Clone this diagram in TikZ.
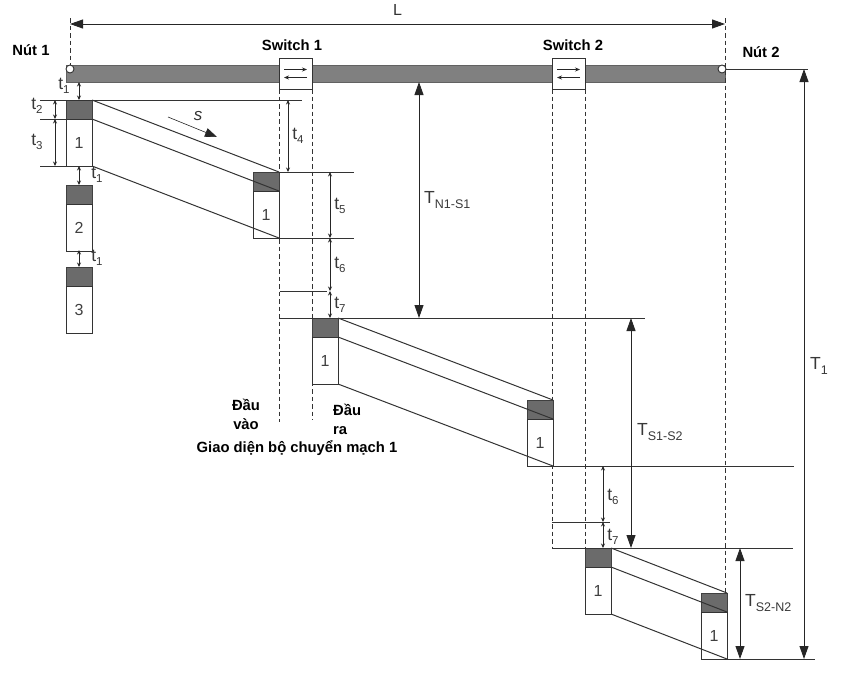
\documentclass[tikz,border=0pt]{standalone}
\usepackage{fontspec}
\setmainfont{Liberation Sans}
\usetikzlibrary{arrows.meta}

% subscripted time labels such as t_1 or T_{N1-S1}
\newcommand{\tlab}[2]{#1\raisebox{-0.45ex}{\fontsize{11.5}{11.5}\selectfont #2}}
\newcommand{\Tlab}[2]{#1\raisebox{-0.55ex}{\fontsize{12.5}{12.5}\selectfont #2}}

\begin{document}
\begin{tikzpicture}[x=1pt,y=-1pt,
  ln/.style={draw=black!80, line width=1pt},
  dsh/.style={draw=black!80, line width=1pt, dash pattern=on 4.5pt off 3pt},
  hdr/.style={draw=black!75, fill=black!58, line width=0.6pt, minimum width=26pt,
    minimum height=19pt, inner sep=0pt, outer sep=0pt, anchor=north west},
  pbody/.style={draw=black!80, fill=white, line width=1pt, minimum width=26pt,
    minimum height=47pt, inner sep=0pt, outer sep=0pt, anchor=north,
    font=\fontsize{16}{16}\selectfont, text=black!75},
  dimsmall/.style={draw=black!85, line width=0.9pt,
    {Stealth[length=4.5pt,width=4pt]}-{Stealth[length=4.5pt,width=4pt]}},
  dimbig/.style={draw=black!85, line width=0.9pt,
    {Triangle[length=13pt,width=9pt]}-{Triangle[length=13pt,width=9pt]}},
  lbl/.style={font=\bfseries\fontsize{14.8}{17}\selectfont, inner sep=0pt},
  tl/.style={font=\fontsize{17.5}{17.5}\selectfont, text=black!78, inner sep=0pt},
  swbox/.style={draw=black!80, fill=white, line width=1pt, minimum width=33pt,
    minimum height=31pt, inner sep=0pt, outer sep=0pt},
  endpt/.style={circle, draw=black!80, fill=white, line width=0.9pt,
    minimum size=8pt, inner sep=0pt},
]
\useasboundingbox (0,0) rectangle (851,672);

% ---------- link between the two nodes ----------
\fill[black!50] (66,65) rectangle (725,82);
\draw[black!62, line width=0.5pt] (66,65) rectangle (725,82);

% span L
\coordinate (Ltop1) at (70,18);
\coordinate (Ltop2) at (725,18);
\coordinate (La) at (70,24);
\coordinate (Lb) at (725,24);
\draw[dimbig] (La) -- (Lb) node[midway, above=5pt, font=\fontsize{16}{16}\selectfont, text=black!80] (Ltxt) {L};

\node[endpt] (n1) at (70,69) {};
\node[endpt] (n2) at (722,69) {};
\draw[dsh] (Ltop1) -- (n1.north);
\coordinate (n2low) at (725,594);
\draw[dsh] (Ltop2) -- (n2low);

% switches
\node[swbox] (sw1) at (295.5,73.5) {};
\node[swbox] (sw2) at (568.5,73.5) {};
\foreach \s in {sw1,sw2}{
  \draw[black!85, line width=0.8pt, -{Stealth[length=5pt,width=4pt]}]
    ([xshift=5pt,yshift=4pt]\s.west) -- ([xshift=-5pt,yshift=4pt]\s.east);
  \draw[black!85, line width=0.8pt, -{Stealth[length=5pt,width=4pt]}]
    ([xshift=-5pt,yshift=-4pt]\s.east) -- ([xshift=5pt,yshift=-4pt]\s.west);
}
\coordinate (sw1inlow) at (279,422);
\coordinate (sw1outlow) at (312,420);
\coordinate (sw2inlow) at (552,548);
\coordinate (sw2outlow) at (585,548);
\draw[dsh] (sw1.south west) -- (sw1inlow);
\draw[dsh] (sw1.south east) -- (sw1outlow);
\draw[dsh] (sw2.south west) -- (sw2inlow);
\draw[dsh] (sw2.south east) -- (sw2outlow);

% labels above the link
\node[lbl] (nut1) at (31,50) {Nút 1};
\node[lbl] (nut2) at (761,52) {Nút 2};
\node[lbl] (s1txt) at (292,45) {Switch 1};
\node[lbl] (s2txt) at (573,45) {Switch 2};

% ---------- packets ----------
\node[hdr] (h1) at (66,100) {};
\node[pbody] (b1) at (h1.south) {1};
\node[hdr] (h2) at (66,185) {};
\node[pbody] (b2) at (h2.south) {2};
\node[hdr] (h3) at (66,267) {};
\node[pbody] (b3) at (h3.south) {3};

\node[hdr] (h4) at (253,172) {};
\node[pbody] (b4) at (h4.south) {1};
\node[hdr] (h5) at (312,318) {};
\node[pbody] (b5) at (h5.south) {1};
\node[hdr] (h6) at (527,400) {};
\node[pbody] (b6) at (h6.south) {1};
\node[hdr] (h7) at (585,548) {};
\node[pbody] (b7) at (h7.south) {1};
\node[hdr] (h8) at (701,593) {};
\node[pbody] (b8) at (h8.south) {1};

% propagation slopes
\foreach \a/\b in {1/4,5/6,7/8}{
  \draw[ln] (h\a.north east) -- (h\b.north east);
  \draw[ln] (h\a.south east) -- (h\b.south east);
  \draw[ln] (b\a.south east) -- (b\b.south east);
}

% direction of propagation s
\coordinate (sa) at (168,117);
\coordinate (sb) at (217,137);
\draw[black!85, line width=0.6pt, -{Triangle[length=12pt,width=9pt]}] (sa) -- (sb);
\node[font=\itshape\fontsize{17}{17}\selectfont, text=black!80] (stxt) at (198,116) {s};

% ---------- reference lines ----------
\coordinate (r100a) at (40,100);  \coordinate (r100b) at (302,100);
\coordinate (r119a) at (40,119);
\coordinate (r166a) at (40,166);
\coordinate (r291a) at (280,291); \coordinate (r291b) at (327,291);
\coordinate (r318a) at (280,318); \coordinate (r318b) at (645,318);
\coordinate (r522a) at (552,522); \coordinate (r522b) at (610,522);
\coordinate (r548a) at (552,548); \coordinate (r548b) at (793,548);
\coordinate (r69b) at (808,69);

\draw[ln] (r100a) -- (r100b);
\draw[ln] (r119a) -- (h1.south west);
\draw[ln] (r166a) -- (b1.south west);
\draw[ln] (h4.north east) -- ++(75,0) coordinate (r172b);
\draw[ln] (b4.south east) -- ++(75,0) coordinate (r237b);
\draw[ln] (r291a) -- (r291b);
\draw[ln] (r318a) -- (r318b);
\draw[ln] (b6.south east) -- ++(241,0) coordinate (r467b);
\draw[ln] (r522a) -- (r522b);
\draw[ln] (r548a) -- (r548b);
\draw[ln] (b8.south east) -- ++(88,0) coordinate (r659b);
\draw[ln] (n2.east) -- (r69b);

% ---------- time intervals ----------
\coordinate (t1a) at (79,82);   \coordinate (t1b) at (79,100);
\coordinate (t2a) at (55,100);  \coordinate (t2b) at (55,119);
\coordinate (t3b) at (55,166);
\coordinate (t1c) at (79,166);  \coordinate (t1d) at (79,185);
\coordinate (t1e) at (79,250);  \coordinate (t1f) at (79,267);
\coordinate (t4a) at (288,100); \coordinate (t4b) at (288,172);
\coordinate (t5a) at (330,172); \coordinate (t5b) at (330,238);
\coordinate (t6b) at (330,291); \coordinate (t7b) at (330,318);
\coordinate (u6a) at (603,466); \coordinate (u6b) at (603,522);
\coordinate (u7b) at (603,548);
\coordinate (TNa) at (419,82);  \coordinate (TNb) at (419,318);
\coordinate (TSa) at (631,318); \coordinate (TSb) at (631,548);
\coordinate (TEa) at (740,548); \coordinate (TEb) at (740,659);
\coordinate (T1a) at (804,69);  \coordinate (T1b) at (804,659);

\draw[dimsmall] (t1a) -- (t1b);
\draw[dimsmall] (t2a) -- (t2b);
\draw[dimsmall] (t2b) -- (t3b);
\draw[dimsmall] (t1c) -- (t1d);
\draw[dimsmall] (t1e) -- (t1f);
\draw[dimsmall] (t4a) -- (t4b);
\draw[dimsmall] (t5a) -- (t5b);
\draw[dimsmall] (t5b) -- (t6b);
\draw[dimsmall] (t6b) -- (t7b);
\draw[dimsmall] (u6a) -- (u6b);
\draw[dimsmall] (u6b) -- (u7b);
\draw[dimbig] (TNa) -- (TNb);
\draw[dimbig] (TSa) -- (TSb);
\draw[dimbig] (TEa) -- (TEb);
\draw[dimbig] (T1a) -- (T1b);

\node[tl] (lt1a) at (64,86) {\tlab{t}{1}};
\node[tl] (lt2) at (37,106) {\tlab{t}{2}};
\node[tl] (lt3) at (37,142) {\tlab{t}{3}};
\node[tl] (lt1b) at (97,175) {\tlab{t}{1}};
\node[tl] (lt1c) at (97,258) {\tlab{t}{1}};
\node[tl] (lt4) at (298,136) {\tlab{t}{4}};
\node[tl] (lt5) at (340,206) {\tlab{t}{5}};
\node[tl] (lt6) at (340,265) {\tlab{t}{6}};
\node[tl] (lt7) at (340,305) {\tlab{t}{7}};
\node[tl] (lu6) at (613,497) {\tlab{t}{6}};
\node[tl] (lu7) at (613,537) {\tlab{t}{7}};
\node[tl, anchor=west] (lTN) at (424,200) {\Tlab{T}{N1-S1}};
\node[tl, anchor=west] (lTS) at (637,432) {\Tlab{T}{S1-S2}};
\node[tl, anchor=west] (lTE) at (745,603) {\Tlab{T}{S2-N2}};
\node[tl, anchor=west] (lT1) at (810,366) {\Tlab{T}{1}};

% ---------- switch interface captions ----------
\node[lbl, align=center] (invao) at (246,414) {Đầu\\[2pt]vào};
\node[lbl, align=left, anchor=west] (inra) at (333,419) {Đầu\\[2pt]ra};
\node[lbl] (giao) at (297,448) {Giao diện bộ chuyển mạch 1};

\end{tikzpicture}
\end{document}
